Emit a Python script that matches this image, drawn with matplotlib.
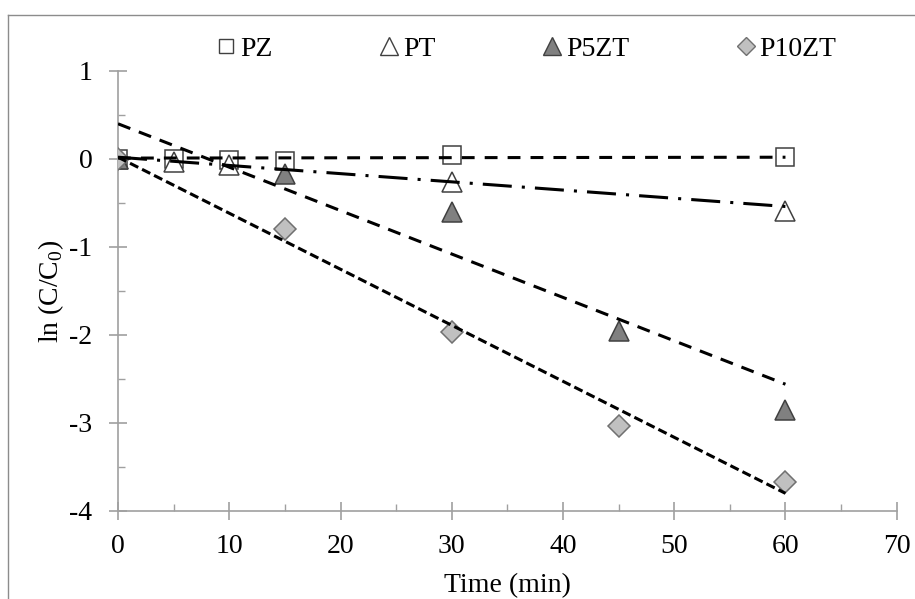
import matplotlib
matplotlib.use('Agg')
import matplotlib.pyplot as plt
from matplotlib.lines import Line2D

plt.rcParams['font.family'] = ['Liberation Serif', 'DejaVu Serif']
plt.rcParams['axes.unicode_minus'] = False

# measured points
pz_t = [0, 5, 10, 15, 30, 60]
pz_y = [0.0, 0.0, -0.01, -0.02, 0.04, 0.02]
pt_t = [0, 5, 10, 30, 60]
pt_y = [0.0, -0.03, -0.07, -0.26, -0.59]
p5_t = [0, 15, 30, 45, 60]
p5_y = [0.0, -0.17, -0.60, -1.95, -2.85]
p10_t = [0, 15, 30, 45, 60]
p10_y = [0.0, -0.80, -1.97, -3.03, -3.67]

# linear trend lines (end points)
fit_t = [0, 60]
pz_fit = [0.01, 0.02]
pt_fit = [0.02, -0.54]
p5_fit = [0.40, -2.56]
p10_fit = [0.02, -3.80]

names = ['PZ', 'PT', 'P5ZT', 'P10ZT']

axcol = '#a0a0a0'
edge = '#404040'

fig = plt.figure(figsize=(9.15, 5.99), dpi=100)
ax = fig.add_axes([0.129, 0.147, 0.851, 0.7345])

# outer frame of the pasted chart
fig.add_artist(Line2D([8/915, 8/915], [0, 1-15/599], color='#8c8c8c', lw=1))
fig.add_artist(Line2D([8/915, 1], [1-15/599, 1-15/599], color='#8c8c8c', lw=1))

ax.plot(pz_t, pz_y, 's', ms=13, mfc='white', mec=edge, mew=1.1, zorder=3)
ax.plot(pt_t, pt_y, '^', ms=15, mfc='white', mec=edge, mew=1.1, zorder=3)
ax.plot(p5_t, p5_y, '^', ms=15, mfc='#808080', mec=edge, mew=1.1, zorder=3)
ax.plot(p10_t, p10_y, 'D', ms=11, mfc='#c0c0c0', mec='#707070', mew=1.1, zorder=3)

ax.plot(fit_t, pz_fit, color='black', lw=2.2, ls=(0, (4.2, 3.3)), zorder=4)
ax.plot(fit_t, pt_fit, color='black', lw=2.2, ls=(0, (9.5, 3.3, 1.0, 3.3)), zorder=4)
ax.plot(fit_t, p5_fit, color='black', lw=2.2, ls=(0, (4.3, 3.0)), zorder=4)
ax.plot(fit_t, p10_fit, color='black', lw=2.2, ls=(0, (3.0, 1.4)), zorder=4)

ax.set_xlim(0, 70)
ax.set_ylim(-4, 1)
ax.set_xticks(range(0, 71, 10))
ax.set_xticks(range(5, 70, 10), minor=True)
ax.set_yticks(range(-4, 2))
ax.set_yticks([-3.5, -2.5, -1.5, -0.5, 0.5], minor=True)

for s in ['top', 'right']:
    ax.spines[s].set_visible(False)
for s in ['left', 'bottom']:
    ax.spines[s].set_color(axcol)
    ax.spines[s].set_linewidth(1.2)

ax.tick_params(which='major', direction='inout', length=13, width=1.2, color=axcol,
               labelsize=20)
ax.tick_params(which='minor', direction='in', length=5, width=1.0, color=axcol)
ax.tick_params(axis='x', which='major', pad=10)
ax.tick_params(axis='y', which='major', pad=12)

ax.set_xlabel('Time (min)', fontsize=20, labelpad=10)
ax.set_ylabel('ln (C/C$_\\mathregular{0}$)', fontsize=20, labelpad=2)

handles = [
    Line2D([], [], ls='none', marker='s', ms=9.5, mfc='white', mec=edge, mew=1.0),
    Line2D([], [], ls='none', marker='^', ms=13, mfc='white', mec=edge, mew=1.0),
    Line2D([], [], ls='none', marker='^', ms=13, mfc='#808080', mec=edge, mew=1.0),
    Line2D([], [], ls='none', marker='D', ms=9, mfc='#c0c0c0', mec='#707070', mew=1.0),
]
fig.legend(handles, names, loc='center left', bbox_to_anchor=(0.235, 1-49/599),
           ncol=4, frameon=False, fontsize=20, handlelength=0.8,
           handletextpad=0.1, columnspacing=3.8, borderpad=0, borderaxespad=0)

fig.savefig('out.png', dpi=100)
